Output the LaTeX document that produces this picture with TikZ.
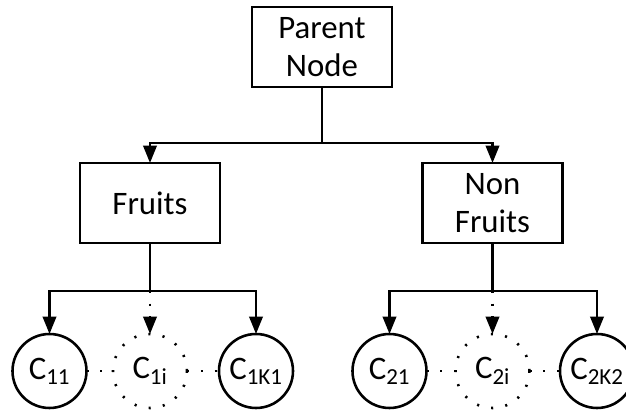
\documentclass[tikz,border=0pt]{standalone}
\usepackage{fontspec}
\setmainfont{Carlito}
\usetikzlibrary{arrows.meta}

\begin{document}
\begin{tikzpicture}[line width=2.2pt,
  every node/.style={font=\fontsize{28}{32}\selectfont, align=center, inner sep=0pt, outer sep=0pt},
  box/.style={draw, minimum width=4.2cm, minimum height=2.4cm},
  leaf/.style={draw, circle, minimum size=2.22cm},
  dotleaf/.style={leaf, dash pattern=on 1.8pt off 10.5pt},
  link/.style={-{Triangle[length=0.52cm,width=0.4cm]}},
  dotlink/.style={link, dash pattern=on 1.8pt off 9pt},
  gap/.style={dash pattern=on 1.8pt off 10pt}]
\useasboundingbox (0,0) rectangle (18.78,12.33);

\node[box] (parent) at (9.66,10.92) {Parent\\Node};
\node[box] (fruits) at (4.5,6.24) {Fruits};
\node[box] (nonfruits) at (14.775,6.24) {Non\\Fruits};

\node[leaf] (c11) at (1.485,1.2) {C\textsubscript{11}};
\node[dotleaf] (c1i) at (4.5,1.2) {C\textsubscript{1i}};
\node[leaf] (c1k) at (7.68,1.2) {C\textsubscript{1K1}};
\node[leaf] (c21) at (11.685,1.2) {C\textsubscript{21}};
\node[dotleaf] (c2i) at (14.775,1.2) {C\textsubscript{2i}};
\node[leaf] (c2k) at (17.91,1.2) {C\textsubscript{2K2}};

\coordinate (split) at (9.66,8.04);
\coordinate (fsplit) at (4.5,3.6);
\coordinate (nsplit) at (14.775,3.6);

\draw (parent) -- (split);
\draw[link] (split) -| (fruits);
\draw[link] (split) -| (nonfruits);

\draw (fruits) -- (fsplit);
\draw[link] (fsplit) -| (c11);
\draw[link] (fsplit) -| (c1k);
\draw[dotlink] (fsplit) -- (c1i);

\draw (nonfruits) -- (nsplit);
\draw[link] (nsplit) -| (c21);
\draw[link] (nsplit) -| (c2k);
\draw[dotlink] (nsplit) -- (c2i);

\draw[gap] (c11) -- (c1i);
\draw[gap] (c1i) -- (c1k);
\draw[gap] (c21) -- (c2i);
\draw[gap] (c2i) -- (c2k);
\end{tikzpicture}
\end{document}
